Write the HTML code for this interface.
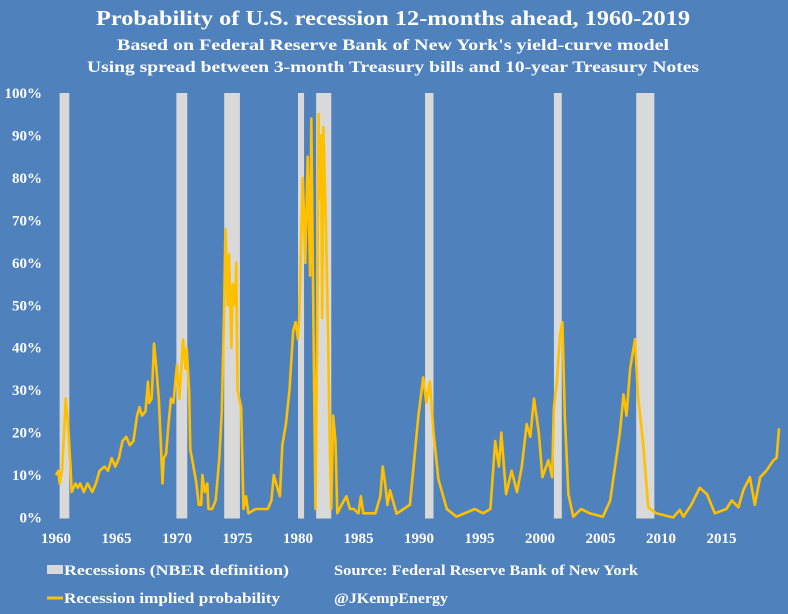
<!DOCTYPE html>
<html><head><meta charset="utf-8"><style>
html,body{margin:0;padding:0;background:#4f81bd;}
svg{display:block;font-family:"Liberation Serif",serif;font-weight:bold;}
</style></head><body>
<svg id="chart" width="788" height="614" viewBox="0 0 788 614">
<rect x="0" y="0" width="788" height="614" fill="#4f81bd"/>
<text x="393" y="25" text-anchor="middle" fill="#fff" font-size="21" textLength="594" lengthAdjust="spacingAndGlyphs">Probability of U.S. recession 12-months ahead, 1960-2019</text>
<text x="393" y="50" text-anchor="middle" fill="#fff" font-size="16" textLength="552" lengthAdjust="spacingAndGlyphs">Based on Federal Reserve Bank of New York's yield-curve model</text>
<text x="393" y="72" text-anchor="middle" fill="#fff" font-size="16" textLength="612" lengthAdjust="spacingAndGlyphs">Using spread between 3-month Treasury bills and 10-year Treasury Notes</text>
<g id="bars"></g><g id="yaxis"></g><g id="xaxis"></g><g id="series"></g>
<g>
<rect x="47" y="565" width="16" height="9" fill="#d9d9d9"/>
<text x="64" y="575" fill="#fff" font-size="15" textLength="225" lengthAdjust="spacingAndGlyphs">Recessions (NBER definition)</text>
<line x1="47" y1="598" x2="63" y2="598" stroke="#ffc000" stroke-width="3"/>
<text x="64" y="603" fill="#fff" font-size="15" textLength="216" lengthAdjust="spacingAndGlyphs">Recession implied probability</text>
<text x="334" y="575" fill="#fff" font-size="15" textLength="304" lengthAdjust="spacingAndGlyphs">Source: Federal Reserve Bank of New York</text>
<text x="334" y="603" fill="#fff" font-size="15" textLength="114" lengthAdjust="spacingAndGlyphs">@JKempEnergy</text>
</g>
</svg>
<script>
const recessionStarts=[1960.3,1969.95,1973.9,1980.0,1981.5,1990.5,2001.15,2007.95];
const recessionEnds=[1961.1,1970.85,1975.2,1980.5,1982.75,1991.2,2001.8,2009.45];
const yTicks=[0,10,20,30,40,50,60,70,80,90,100];
const xTicks=[1960,1965,1970,1975,1980,1985,1990,1995,2000,2005,2010,2015];
const years=[1960.0,1960.2,1960.3,1960.5,1960.7,1960.8,1961.0,1961.2,1961.3,1961.6,1961.8,1962.0,1962.3,1962.6,1963.0,1963.3,1963.6,1964.0,1964.3,1964.6,1964.9,1965.2,1965.5,1965.8,1966.1,1966.4,1966.7,1966.9,1967.1,1967.4,1967.6,1967.7,1967.9,1968.0,1968.1,1968.3,1968.5,1968.7,1968.8,1968.9,1969.1,1969.3,1969.5,1969.7,1969.9,1970.0,1970.2,1970.4,1970.5,1970.7,1970.8,1971.0,1971.1,1971.3,1971.6,1971.8,1972.0,1972.1,1972.3,1972.5,1972.6,1972.9,1973.2,1973.5,1973.7,1973.9,1974.0,1974.2,1974.3,1974.5,1974.6,1974.8,1974.9,1975.0,1975.3,1975.5,1975.7,1975.9,1976.5,1977.5,1977.8,1978.0,1978.3,1978.5,1978.7,1979.0,1979.3,1979.6,1979.8,1980.0,1980.1,1980.3,1980.4,1980.6,1980.8,1981.0,1981.1,1981.3,1981.45,1981.6,1981.7,1981.8,1981.9,1982.0,1982.1,1982.3,1982.5,1982.6,1982.75,1982.9,1983.1,1983.25,1983.6,1984.0,1984.3,1984.6,1985.0,1985.2,1985.4,1985.8,1986.4,1986.8,1987.0,1987.2,1987.4,1987.6,1988.15,1989.25,1989.95,1990.35,1990.6,1990.9,1991.2,1991.6,1992.3,1993.1,1994.6,1995.3,1995.9,1996.3,1996.6,1996.8,1997.2,1997.65,1998.1,1998.5,1998.9,1999.2,1999.5,1999.9,2000.2,2000.7,2001.0,2001.15,2001.4,2001.65,2001.85,2002.05,2002.35,2002.75,2003.4,2004.1,2005.2,2005.8,2006.6,2006.9,2007.15,2007.45,2007.85,2008.1,2008.5,2008.95,2009.6,2011.0,2011.55,2011.85,2012.5,2013.2,2013.8,2014.45,2015.4,2015.85,2016.4,2016.8,2017.35,2017.75,2018.2,2018.7,2019.3,2019.55,2019.75];
const probs=[10,11,8,11,22,28,22,12,6,8,7,8,6,8,6,8,11,12,11,14,12,14,18,19,17,18,24,26,24,25,32,27,28,34,41,35,28,15,8,14,15,22,28,27,33,36,28,37,42,35,40,30,16,13,8,3,3,10,6,8,2,2,4,14,25,50,68,50,62,40,55,50,60,30,26,2,5,1,2,2,4,10,7,5,17,22,30,44,46,42,47,70,80,60,85,57,94,40,2,50,95,75,90,47,92,70,40,20,2,24,18,1,3,5,2,2,1,5,1,1,1,5,12,8,3,6.4,0.9,3,24,33,27,32,20,9,2,0.2,2,1,2,18,12,20,5.5,11,6,12,22,19,28,20,9.5,13.5,9.5,26,32,43,46,24,5.5,0.2,2,1,0.2,4,20,29,24,35,42,28.5,18,2.4,1,0,1.8,0.2,3,7,5.5,1,2,4,2.4,6.4,9.5,3,9.5,11,13.5,14,21];
const NS='http://www.w3.org/2000/svg';
function xs(y){return 56+(y-1960)*12.1;}
function ys(v){return 517.5-v*4.245;}
function mk(tag,attrs,parent){const e=document.createElementNS(NS,tag);for(const k in attrs)e.setAttribute(k,attrs[k]);parent.appendChild(e);return e;}
const bars=document.getElementById('bars');
recessionStarts.forEach((s,i)=>{
  const r=mk('rect',{x:xs(s),y:ys(100),width:xs(recessionEnds[i])-xs(s),height:ys(0)-ys(100)+1,fill:'#d9d9d9'},bars);
  
  
});
const ya=document.getElementById('yaxis');
yTicks.forEach(t=>{
  const e=mk('text',{x:42,y:ys(t)+5,'text-anchor':'end',fill:'#fff','font-size':15},ya);
  e.textContent=t+'%';
  
  
});
const xa=document.getElementById('xaxis');
xTicks.forEach(t=>{
  const e=mk('text',{x:xs(t),y:543,'text-anchor':'middle',fill:'#fff','font-size':15},xa);
  e.textContent=t;
  
  
});
const d=years.map((y,i)=>(i?'L':'M')+xs(y).toFixed(1)+','+ys(probs[i]).toFixed(1)).join(' ');
const p=mk('path',{d:d,fill:'none',stroke:'#ffc000','stroke-width':2.6,'stroke-linejoin':'round'},document.getElementById('series'));


</script>
</body></html>
